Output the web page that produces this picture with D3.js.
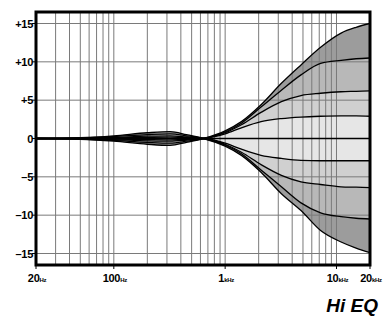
<!DOCTYPE html>
<html>
<head>
<meta charset="utf-8">
<script src="https://cdn.jsdelivr.net/npm/d3@7"></script>
<style>
  html, body { margin: 0; padding: 0; background: #fff; }
  svg { display: block; font-family: "Liberation Sans", Arial, sans-serif; }
</style>
</head>
<body>
<div id="chart"></div>
<script>
const freqs = [20, 50, 100, 200, 320, 450, 640, 1000, 1400, 2100, 3200, 4800, 7200, 11000, 15000, 20000];

// gain (dB) of each shelving curve
const boost15 = [0, -0.1, -0.35, -0.75, -0.9, -0.5, 0, 1.0, 2.2, 4.4, 7.2, 9.6, 11.9, 13.75, 14.5, 15];
const boost10 = [0, -0.07, -0.25, -0.5, -0.6, -0.35, 0, 0.85, 2.0, 4.1, 6.3, 8.3, 9.8, 10.2, 10.4, 10.5];
const boost6  = [0, -0.04, -0.15, -0.3, -0.35, -0.2, 0, 0.75, 1.8, 3.4, 4.8, 5.6, 5.9, 6.1, 6.15, 6.2];
const boost3  = [0, -0.02, -0.08, -0.15, -0.18, -0.1, 0, 0.6, 1.4, 2.2, 2.6, 2.8, 2.9, 2.95, 2.95, 2.9];
const flat    = [0, 0, 0, 0, 0, 0, 0, 0, 0, 0, 0, 0, 0, 0, 0, 0];
const cut3    = [0, 0.02, 0.08, 0.15, 0.18, 0.1, 0, -0.6, -1.4, -2.2, -2.6, -2.85, -2.9, -2.9, -2.9, -2.9];
const cut6    = [0, 0.04, 0.15, 0.3, 0.35, 0.2, 0, -0.75, -1.8, -3.4, -4.8, -5.65, -6.0, -6.3, -6.35, -6.4];
const cut10   = [0, 0.07, 0.25, 0.5, 0.6, 0.35, 0, -0.85, -2.0, -4.1, -6.3, -8.4, -9.7, -10.2, -10.4, -10.5];
const cut15   = [0, 0.1, 0.35, 0.75, 0.9, 0.5, 0, -1.0, -2.2, -4.4, -7.2, -9.4, -12.0, -13.5, -14.3, -14.9];

// tick labels
const yTicks = [15, 10, 5, 0, -5, -10, -15];
const yLabels = ["+15", "+10", "+5", "0", "\u20135", "\u201310", "\u201315"];
const xTicks = [20, 100, 1000, 10000, 20000];
const xNums = ["20", "100", "1", "10", "20"];
const xUnits = ["Hz", "Hz", "kHz", "kHz", "kHz"];
const gridFreqs = [20, 30, 40, 50, 60, 70, 80, 90, 100, 200, 300, 400, 500, 600, 700, 800, 900,
                   1000, 2000, 3000, 4000, 5000, 6000, 7000, 8000, 9000, 10000, 20000];
const gridGains = [15, 10, 5, -5, -10, -15];

const width = 384, height = 320;
const mLeft = 36, mRight = 370, mTop = 12, mBottom = 265;

const svg = d3.select("#chart").append("svg")
    .attr("width", width)
    .attr("height", height);

const x = d3.scaleLog().domain([20, 20000]).range([mLeft, mRight]);
const y = d3.scaleLinear().domain([-16.5, 16.5]).range([mBottom, mTop]);

// bands between neighbouring curves, from outside in
const bands = [
    [boost15, boost10, "#9c9c9c"],
    [boost10, boost6, "#b8b8b8"],
    [boost6, boost3, "#d0d0d0"],
    [boost3, cut3, "#e6e6e6"],
    [cut3, cut6, "#d0d0d0"],
    [cut6, cut10, "#b8b8b8"],
    [cut10, cut15, "#9c9c9c"]
];

const area = d3.area()
    .x(d => x(d.f))
    .y0(d => y(d.a))
    .y1(d => y(d.b))
    .curve(d3.curveMonotoneX);

bands.forEach(([a, b, color]) => {
    const pts = freqs.map((f, i) => ({ f, a: a[i], b: b[i] }));
    svg.append("path")
       .attr("d", area(pts))
       .attr("fill", color);
});

// grid
svg.append("g")
   .selectAll("line")
   .data(gridFreqs)
   .enter()
   .append("line")
   .attr("x1", d => x(d)).attr("x2", d => x(d))
   .attr("y1", mTop).attr("y2", mBottom)
   .attr("stroke", "#7a7a7a")
   .attr("stroke-width", 1);

svg.append("g")
   .selectAll("line")
   .data(gridGains)
   .enter()
   .append("line")
   .attr("x1", mLeft).attr("x2", mRight)
   .attr("y1", d => y(d)).attr("y2", d => y(d))
   .attr("stroke", "#7a7a7a")
   .attr("stroke-width", 1);

// curves
const line = d3.line()
    .x((d, i) => x(freqs[i]))
    .y(d => y(d))
    .curve(d3.curveMonotoneX);

[boost15, boost10, boost6, boost3, flat, cut3, cut6, cut10, cut15].forEach(c => {
    svg.append("path")
       .attr("d", line(c))
       .attr("fill", "none")
       .attr("stroke", "#000")
       .attr("stroke-width", 1.3);
});

// frame
svg.append("rect")
   .attr("x", mLeft).attr("y", mTop)
   .attr("width", mRight - mLeft).attr("height", mBottom - mTop)
   .attr("fill", "none")
   .attr("stroke", "#000")
   .attr("stroke-width", 3);

// y axis ticks + labels
yTicks.forEach((v, i) => {
    svg.append("line")
       .attr("x1", mLeft - 4).attr("x2", mLeft)
       .attr("y1", y(v)).attr("y2", y(v))
       .attr("stroke", "#000").attr("stroke-width", 1);
    svg.append("text")
       .attr("x", mLeft - 3)
       .attr("y", y(v) + 4)
       .attr("text-anchor", "end")
       .attr("font-size", 11)
       .attr("font-weight", "bold")
       .attr("letter-spacing", -0.3)
       .text(yLabels[i]);
});

// x axis ticks + labels
xTicks.forEach((f, i) => {
    svg.append("line")
       .attr("x1", x(f)).attr("x2", x(f))
       .attr("y1", mBottom).attr("y2", mBottom + 4)
       .attr("stroke", "#000").attr("stroke-width", 1);
    const t = svg.append("text")
       .attr("x", x(f) + 1)
       .attr("y", 282)
       .attr("text-anchor", "middle")
       .attr("font-weight", "bold")
       .attr("letter-spacing", -0.3);
    t.append("tspan").attr("font-size", 11).text(xNums[i]);
    t.append("tspan").attr("font-size", 6).text(xUnits[i]);
});

svg.append("text")
   .attr("x", 378)
   .attr("y", 312)
   .attr("text-anchor", "end")
   .attr("font-size", 19)
   .attr("font-weight", "bold")
   .attr("font-style", "italic")
   .text("Hi EQ");
</script>
</body>
</html>
